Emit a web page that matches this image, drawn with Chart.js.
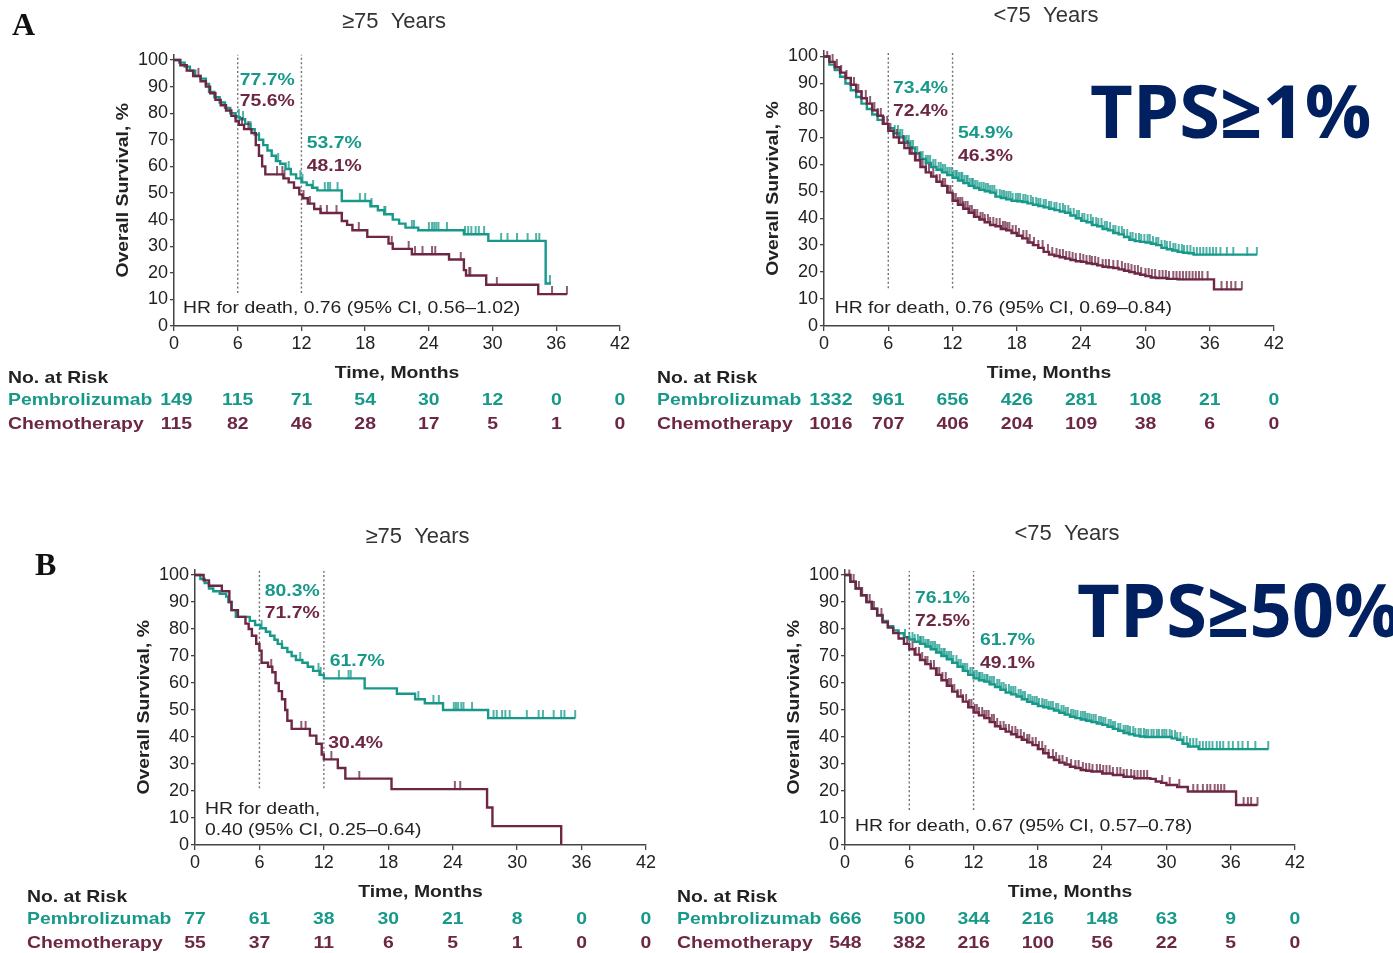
<!DOCTYPE html>
<html>
<head>
<meta charset="utf-8">
<script src="https://cdn.jsdelivr.net/npm/chart.js@4.4.1/dist/chart.umd.min.js"></script>
<style>
  html, body { margin: 0; padding: 0; background: #fff; }
  body { width: 1393px; height: 953px; position: relative; overflow: hidden; }
  canvas { position: absolute; }
</style>
</head>
<body>
<canvas id="aOld"></canvas>
<canvas id="aYoung"></canvas>
<canvas id="bOld"></canvas>
<canvas id="bYoung"></canvas>
<script>
// ---- axis ticks ----
const monthTicks = [0, 6, 12, 18, 24, 30, 36, 42];
const survivalTicks = [0, 10, 20, 30, 40, 50, 60, 70, 80, 90, 100];
const milestoneMonths = [6, 12];

// ---- A: TPS >= 1%, age >= 75 ----  [month, survival %]
const aOldPembro = [[0,100],[0.5,99],[1,97.5],[1.5,96],[2,94],[2.5,93],[3,91],[3.3,88],[3.8,86],[4.3,84],[4.8,82],[5.3,80],[5.8,78.5],[6.2,77.7],[6.7,76],[7.2,74],[7.6,72],[8,70],[8.4,68],[8.8,66],[9.2,64],[9.6,62],[10,61],[10.5,59],[11,57],[11.5,55.5],[12,54],[12.5,53],[13,52],[13.5,51],[15.8,47],[18.5,45],[19.2,43.5],[19.8,42],[20.6,40],[21.2,38.5],[21.8,37],[23,36],[27.3,34.5],[29.6,32],[35,16],[35.5,16]];
const aOldChemo = [[0,100],[0.6,98],[1.2,96],[1.8,94],[2.5,92],[3,90],[3.4,87.5],[3.9,85],[4.4,83],[4.9,81],[5.4,79],[5.8,77],[6.1,75.6],[6.6,74],[7.3,72.5],[7.7,68],[8,64],[8.3,60],[8.6,57],[10.3,55.5],[10.8,54],[11.3,52],[11.8,49.5],[12.1,48],[12.6,46],[13.2,44],[13.8,42.5],[15.8,39.5],[16.3,38],[16.8,36],[18.2,33.5],[20.2,31],[20.6,29],[22.4,27],[25.9,25],[27.3,21],[27.5,19],[29.4,15.5],[34.3,12],[37,12]];
const aOldPembroCensor = [6.1,6.5,7.2,8.0,9.8,10.8,11.9,12.1,13.1,14.2,14.5,14.7,15.4,17.5,18.0,18.6,19.8,19.9,22.4,22.6,24.0,24.3,24.5,24.7,24.9,25.7,27.4,27.7,28.0,28.4,28.7,29.2,30.8,31.4,32.3,33.3,34.1,34.4,35.4];
const aOldChemoCensor = [2.3,6.4,7.0,9.7,10.2,10.4,12.2,12.8,13.8,14.4,15.3,17.4,20.5,22.1,22.7,23.4,24.3,24.6,27.0,27.8,27.9,30.4,35.6,37.0];
const aOldPembroPct = [77.7, 53.7];
const aOldChemoPct = [75.6, 48.1];
const aOldHr = ['HR for death, 0.76 (95% CI, 0.56\u20131.02)'];
const aOldRiskPembro = [149, 115, 71, 54, 30, 12, 0, 0];
const aOldRiskChemo = [115, 82, 46, 28, 17, 5, 1, 0];

// ---- A: TPS >= 1%, age < 75 ----
const aYoungPembro = [[0,100],[0.5,97],[1,95],[1.5,92.5],[2,90],[2.5,87.5],[3,85],[3.5,82.5],[4,80.5],[4.5,78.5],[5,76.5],[5.5,75],[6,73.4],[6.5,71.5],[7,70],[7.5,68],[8,66],[8.5,64],[9,62],[9.5,60.5],[10,59],[10.5,58],[11,57],[11.5,56],[12,55],[12.5,54],[13,53],[13.5,52],[14,51.2],[14.5,50.5],[15,50],[15.5,49.5],[16,48],[16.5,47.5],[17,47],[17.5,46.5],[18,46.3],[18.5,46],[19,45.5],[19.5,45],[20,44.5],[20.5,44],[21,43.5],[21.5,43],[22,42.5],[22.5,42],[23,41],[23.5,40],[24,39],[24.5,38.5],[25,37.5],[25.5,37],[26,36],[26.5,35.5],[27,34.5],[27.5,34],[28,33],[28.5,32],[29,31.5],[29.5,31.2],[30,31],[30.5,30.5],[31,30],[31.5,29],[32,28.5],[32.5,28],[33,27.5],[33.5,27.2],[34,27],[34.5,26.5],[40.4,26.5]];
const aYoungChemo = [[0,100],[0.5,98],[1,96],[1.5,94],[2,92],[2.5,89.5],[3,87],[3.5,84.5],[4,82.5],[4.5,80],[5,78],[5.5,75],[6,72.4],[6.5,70],[7,68],[7.5,66],[8,64],[8.5,61.5],[9,59],[9.5,57],[10,55.5],[10.5,53.5],[11,52],[11.5,49.5],[12,46.5],[12.5,45],[13,43.5],[13.5,42],[14,40.5],[14.5,39.5],[15,38.5],[15.5,37.5],[16,37],[16.5,36],[17,35.5],[17.5,34.5],[18,33.5],[18.5,32.5],[19,31],[19.5,30],[20,29],[20.5,27.5],[21,26.5],[21.5,26],[22,25.5],[22.5,25],[23,24.5],[23.5,24],[24,23.8],[24.5,23.3],[25,23],[25.5,22.5],[26,22],[26.5,21.8],[27,21.5],[27.5,21],[28,20.5],[28.5,20],[29,19.5],[29.5,19],[30,18.5],[30.5,18],[31,17.8],[32,17.5],[33,17.3],[36.4,13.6],[39,13.6]];
const aYoungPembroCensor = [6.6,6.9,7.1,7.3,7.5,7.7,7.9,8.1,8.3,8.5,8.7,9.0,9.2,9.5,9.7,9.9,10.2,10.4,10.7,10.9,11.1,11.3,11.5,11.7,11.9,12.1,12.3,12.4,12.6,12.8,12.9,13.1,13.3,13.4,13.6,13.8,13.9,14.1,14.3,14.5,14.7,14.9,15.1,15.3,15.5,15.7,15.9,16.1,16.4,16.6,16.8,17.0,17.2,17.4,17.6,17.9,18.1,18.3,18.6,18.8,19.0,19.3,19.5,19.8,20.0,20.2,20.5,20.7,21.0,21.2,21.5,21.7,22.0,22.3,22.5,22.8,23.0,23.3,23.6,23.8,24.1,24.3,24.6,24.9,25.1,25.4,25.6,25.9,26.2,26.4,26.7,27.0,27.2,27.5,27.8,28.0,28.3,28.6,28.8,29.1,29.4,29.6,29.9,30.2,30.4,30.7,31.0,31.2,31.5,31.8,32.0,32.3,32.6,32.8,33.1,33.4,33.6,33.9,34.2,34.5,34.8,35.1,35.4,35.7,36.0,36.3,36.6,37.0,37.6,38.2,39.5,40.4];
const aYoungChemoCensor = [0.3,0.8,1.2,1.6,2.1,2.5,2.8,3.2,3.5,3.9,4.3,4.7,5.0,5.3,5.6,5.9,6.2,6.8,7.4,7.8,8.2,8.6,8.9,9.2,9.5,9.8,10.2,10.5,10.8,11.1,11.3,11.6,11.8,12.1,12.3,12.5,12.7,12.9,13.0,13.2,13.4,13.6,13.8,14.0,14.1,14.3,14.6,14.8,15.0,15.3,15.5,15.8,16.1,16.4,16.7,16.9,17.1,17.3,17.6,17.9,18.2,18.6,18.9,19.2,19.6,20.0,20.4,20.9,21.3,21.7,22.0,22.3,22.6,22.9,23.2,23.5,23.9,24.2,24.5,24.8,25.0,25.3,25.6,26.0,26.3,26.6,27.0,27.4,27.8,28.1,28.4,28.7,29.0,29.3,29.6,30.0,30.3,30.6,30.9,31.3,31.6,31.9,32.2,32.6,32.9,33.2,33.5,33.8,34.1,34.4,34.7,35.0,35.3,35.8,37.1,37.6,38.0,38.4,39.0];
const aYoungPembroPct = [73.4, 54.9];
const aYoungChemoPct = [72.4, 46.3];
const aYoungHr = ['HR for death, 0.76 (95% CI, 0.69\u20130.84)'];
const aYoungRiskPembro = [1332, 961, 656, 426, 281, 108, 21, 0];
const aYoungRiskChemo = [1016, 707, 406, 204, 109, 38, 6, 0];

// ---- B: TPS >= 50%, age >= 75 ----
const bOldPembro = [[0,100],[0.5,98.5],[0.9,97],[1.3,95],[1.7,94],[2.3,93],[2.9,92],[3.1,90],[3.4,87],[3.8,84.5],[5.1,83],[5.6,81.5],[6.1,80.3],[6.6,79],[7,77.5],[7.4,76],[7.7,74.5],[8.1,73],[8.6,71.5],[9,70],[9.4,68.5],[10,67.5],[10.5,66],[11,64.5],[11.6,63],[12,61.7],[15.8,58],[18.8,56],[20.5,54],[21.4,52.5],[23.1,50],[27.3,47],[35.4,47]];
const bOldChemo = [[0,100],[0.8,98],[1.3,96],[2.5,94],[3.2,90],[3.4,87],[4,84.5],[4.7,82],[5,80],[5.3,77.5],[5.7,74.5],[6,72],[6.2,67.5],[6.8,66],[7.2,64],[7.5,60],[7.8,57],[8.1,54],[8.4,50],[8.6,46],[9,43],[10.7,40.5],[11.3,37.5],[11.8,33.5],[12,31.7],[13.3,28.5],[14,24.6],[18.3,20.7],[27.2,13.9],[27.7,7],[34.1,0]];
const bOldPembroCensor = [6.2,8.1,9.8,11.5,11.7,13.4,14.3,14.5,20.8,22.2,22.7,24.1,24.3,24.5,24.8,25.0,25.8,27.8,28.1,28.6,28.9,29.3,30.9,32.0,32.4,33.4,34.1,34.4,35.4];
const bOldChemoCensor = [7.1,9.9,10.3,12.7,15.3,24.2,24.7];
const bOldPembroPct = [80.3, 61.7];
const bOldChemoPct = [71.7, 30.4];
const bOldHr = ['HR for death,', '0.40 (95% CI, 0.25\u20130.64)'];
const bOldRiskPembro = [77, 61, 38, 30, 21, 8, 0, 0];
const bOldRiskChemo = [55, 37, 11, 6, 5, 1, 0, 0];

// ---- B: TPS >= 50%, age < 75 ----
const bYoungPembro = [[0,100],[0.5,97.5],[1,95],[1.5,92.5],[2,90],[2.5,87.5],[3,85.2],[3.5,83],[4,81],[4.5,79.5],[5,78.4],[5.5,77],[6,76.1],[6.5,75.3],[7,74.5],[7.5,73.5],[8,72.5],[8.5,71.3],[9,70],[9.5,68.8],[10,67.5],[10.5,66],[11,64.5],[11.5,63],[12,61.7],[12.5,61],[13,60.5],[13.5,59.5],[14,58.5],[14.5,57.5],[15,56.5],[15.5,55.8],[16,55],[16.5,54],[17,53],[17.5,52.3],[18,51.5],[18.5,51],[19,50.5],[19.5,49.8],[20,49],[20.5,48.3],[21,47.5],[21.5,47],[22,46.5],[22.5,46],[23,45.5],[23.5,45],[24,44.5],[24.5,43.8],[25,43],[25.5,42.3],[26,41.5],[26.5,41],[27,40.5],[27.5,40.2],[28,40],[30,40],[30.5,39.5],[31,39],[31.5,37.5],[32,36.5],[33,35.5],[39.5,35.5]];
const bYoungChemo = [[0,100],[0.5,97.5],[1,95],[1.5,92.5],[2,90],[2.5,87.5],[3,85],[3.5,82.5],[4,80.5],[4.5,78.5],[5,76.5],[5.5,74.5],[6,72.5],[6.5,70.5],[7,68.5],[7.5,67],[8,65.4],[8.5,63],[9,61],[9.5,59],[10,56.8],[10.5,55],[11,53.1],[11.5,51],[12,49.1],[12.5,48],[13,47],[13.5,45.5],[14,44],[14.5,43],[15,42],[15.5,41],[16,40],[16.5,39],[17,38],[17.5,37],[18,35.5],[18.5,34],[19,32.5],[19.5,31.5],[20,30.5],[20.5,29.8],[21,29],[21.5,28.5],[22,27.8],[22.5,27.5],[23,27.2],[24,26.5],[25,25.9],[26,25.3],[27,24.7],[28.5,24.5],[29,23.5],[29.5,23],[30,22.2],[31,21.5],[32,19.8],[36.5,14.8],[38.5,14.8]];
const bYoungPembroCensor = [5.6,6.0,6.3,6.5,6.8,7.0,7.1,7.3,7.5,7.7,7.8,8.0,8.2,8.4,8.6,8.8,9.0,9.2,9.3,9.5,9.7,9.9,10.1,10.4,10.6,10.8,11.0,11.2,11.4,11.7,11.9,12.1,12.3,12.5,12.6,12.8,13.0,13.2,13.3,13.5,13.7,13.9,14.2,14.4,14.6,14.8,15.0,15.3,15.5,15.7,15.9,16.2,16.4,16.6,16.8,17.1,17.3,17.5,17.7,17.9,18.1,18.4,18.6,18.8,19.0,19.2,19.4,19.7,19.9,20.2,20.4,20.6,20.8,21.1,21.3,21.5,21.7,22.0,22.2,22.4,22.6,22.8,23.0,23.2,23.4,23.7,23.9,24.1,24.3,24.6,24.8,25.0,25.2,25.5,25.7,26.0,26.2,26.4,26.6,26.9,27.1,27.4,27.6,27.9,28.1,28.3,28.6,28.8,29.1,29.3,29.6,29.8,30.0,30.3,30.5,30.8,31.0,31.3,31.6,31.9,32.2,32.5,32.8,33.1,33.4,33.7,34.0,34.3,34.7,35.0,35.3,35.8,36.2,36.7,37.1,37.6,38.3,39.5];
const bYoungChemoCensor = [0.4,0.8,1.0,1.3,1.6,2.0,2.3,2.7,3.0,3.4,5.8,6.3,6.6,6.9,7.2,7.5,7.7,8.0,8.3,8.6,8.8,9.1,9.4,9.7,9.9,10.2,10.5,10.8,11.0,11.3,11.6,11.8,12.1,12.3,12.5,12.8,13.0,13.2,13.4,13.7,13.9,14.2,14.5,14.8,15.0,15.3,15.6,15.9,16.1,16.4,16.7,17.0,17.2,17.5,17.8,18.1,18.4,18.7,19.0,19.4,19.7,20.0,20.3,20.7,21.1,21.5,21.8,22.2,22.5,22.8,23.1,23.5,23.8,24.1,24.4,24.7,25.0,25.4,25.7,26.0,26.3,26.7,27.0,27.3,27.6,27.9,28.2,29.6,30.3,31.2,32.5,32.9,33.4,33.8,34.1,34.5,34.8,35.1,35.4,37.2,37.6,37.9,38.5];
const bYoungPembroPct = [76.1, 61.7];
const bYoungChemoPct = [72.5, 49.1];
const bYoungHr = ['HR for death, 0.67 (95% CI, 0.57\u20130.78)'];
const bYoungRiskPembro = [666, 500, 344, 216, 148, 63, 9, 0];
const bYoungRiskChemo = [548, 382, 216, 100, 56, 22, 5, 0];

// ---- styling ----
const TEAL = '#17998a';
const MAROON = '#6d2744';
const NAVY = '#002060';
const INK = '#222';
const FONT = '"Liberation Sans", Arial, sans-serif';
const STRETCH = 1.14; // the source art is a bit wider than plain Arial
const Y_MAX = 102;
const Y_AXIS_W = 40;
const X_AXIS_H = 28;

function drawText(ctx, str, x, y, opt = {}) {
  ctx.save();
  ctx.font = `${opt.bold ? 'bold ' : ''}${opt.size || 17}px ${opt.family || FONT}`;
  ctx.fillStyle = opt.color || INK;
  ctx.textAlign = opt.align || 'left';
  ctx.textBaseline = opt.baseline || 'alphabetic';
  ctx.translate(x, y);
  if (opt.rotate) ctx.rotate(opt.rotate);
  const sx = opt.stretch === undefined ? STRETCH : opt.stretch;
  ctx.scale(sx, 1);
  ctx.fillText(str, 0, 0);
  ctx.restore();
}

function textWidth(ctx, str, opt = {}) {
  ctx.save();
  ctx.font = `${opt.bold ? 'bold ' : ''}${opt.size || 17}px ${opt.family || FONT}`;
  const w = ctx.measureText(str).width * (opt.stretch === undefined ? STRETCH : opt.stretch);
  ctx.restore();
  return w;
}

// survival value in effect at time t (step function)
function survivalAt(curve, t) {
  let s = curve[0][1];
  curve.forEach(([m, v]) => { if (m <= t) s = v; });
  return s;
}

// small upright censor tick, drawn above the point
function censorMark(color) {
  const c = document.createElement('canvas');
  c.width = 4;
  c.height = 16;
  const g = c.getContext('2d');
  g.strokeStyle = color;
  g.lineWidth = 1.5;
  g.beginPath();
  g.moveTo(2, 0);
  g.lineTo(2, 8.5);
  g.stroke();
  return c;
}

const panels = [
  {
    id: 'aOld', x: 0, y: 0, w: 650, h: 450, left: 174, right: 620, y0: 326, y100: 60,
    title: '\u226575  Years', titleY: 28, letter: 'A', letterAt: [12, 35],
    pembro: aOldPembro, chemo: aOldChemo, pembroCensor: aOldPembroCensor, chemoCensor: aOldChemoCensor,
    pembroPct: aOldPembroPct, chemoPct: aOldChemoPct,
    pembroLabelAt: [[6.2, 92.2], [12.5, 68.8]], chemoLabelAt: [[6.2, 84.6], [12.5, 60.2]],
    guideRange: [12.4, 102], hr: aOldHr, hrAt: [0.85, 6.8],
    riskPembro: aOldRiskPembro, riskChemo: aOldRiskChemo, riskLeft: 8,
  },
  {
    id: 'aYoung', x: 650, y: 0, w: 743, h: 450, left: 824, right: 1274, y0: 326, y100: 56.5,
    title: '<75  Years', titleY: 22, tps: 'TPS\u22651%', tpsAt: [1090, 138],
    pembro: aYoungPembro, chemo: aYoungChemo, pembroCensor: aYoungPembroCensor, chemoCensor: aYoungChemoCensor,
    pembroPct: aYoungPembroPct, chemoPct: aYoungChemoPct,
    pembroLabelAt: [[6.44, 88.3], [12.5, 71.6]], chemoLabelAt: [[6.44, 79.8], [12.5, 63.1]],
    guideRange: [14, 101.5], hr: aYoungHr, hrAt: [1.0, 6.7],
    riskPembro: aYoungRiskPembro, riskChemo: aYoungRiskChemo, riskLeft: 657,
  },
  {
    id: 'bOld', x: 0, y: 470, w: 670, h: 483, left: 195, right: 646, y0: 845, y100: 575,
    title: '\u226575  Years', titleY: 543, letter: 'B', letterAt: [35, 575],
    pembro: bOldPembro, chemo: bOldChemo, pembroCensor: bOldPembroCensor, chemoCensor: bOldChemoCensor,
    pembroPct: bOldPembroPct, chemoPct: bOldChemoPct,
    pembroLabelAt: [[6.5, 94.1], [12.55, 68.1]], chemoLabelAt: [[6.5, 85.9], [12.4, 37.8]],
    guideRange: [21, 101.5], hr: bOldHr, hrAt: [0.93, 13.3],
    riskPembro: bOldRiskPembro, riskChemo: bOldRiskChemo, riskLeft: 27,
  },
  {
    id: 'bYoung', x: 670, y: 470, w: 723, h: 483, left: 845, right: 1295, y0: 845, y100: 575,
    title: '<75  Years', titleY: 540, tps: 'TPS\u226550%', tpsAt: [1077, 637],
    pembro: bYoungPembro, chemo: bYoungChemo, pembroCensor: bYoungPembroCensor, chemoCensor: bYoungChemoCensor,
    pembroPct: bYoungPembroPct, chemoPct: bYoungChemoPct,
    pembroLabelAt: [[6.54, 91.5], [12.6, 75.9]], chemoLabelAt: [[6.54, 82.8], [12.6, 67.4]],
    guideRange: [13, 101.5], hr: bYoungHr, hrAt: [0.93, 6.9],
    riskPembro: bYoungRiskPembro, riskChemo: bYoungRiskChemo, riskLeft: 677,
  },
];

function decorations(p) {
  return {
    id: 'kmDecor',
    beforeDatasetsDraw(chart) {
      const { ctx } = chart;
      const { x, y } = chart.scales;
      ctx.save();
      ctx.strokeStyle = '#707070';
      ctx.lineWidth = 1.4;
      ctx.setLineDash([2, 2.4]);
      milestoneMonths.forEach((m) => {
        const px = x.getPixelForValue(m);
        ctx.beginPath();
        ctx.moveTo(px, y.getPixelForValue(p.guideRange[0]));
        ctx.lineTo(px, y.getPixelForValue(p.guideRange[1]));
        ctx.stroke();
      });
      ctx.restore();
    },
    afterDraw(chart) {
      const { ctx, chartArea: area } = chart;
      const { x, y } = chart.scales;
      const zero = y.getPixelForValue(0);

      drawText(ctx, p.title, (area.left + area.right) / 2 - 3, p.titleY - p.y, { size: 22, color: '#333', align: 'center', stretch: 1 });
      drawText(ctx, 'Overall Survival, %', area.left - 51, (area.top + area.bottom) / 2, { bold: true, align: 'center', baseline: 'middle', rotate: -Math.PI / 2 });

      p.pembroPct.forEach((v, i) => {
        const [m, s] = p.pembroLabelAt[i];
        drawText(ctx, `${v.toFixed(1)}%`, x.getPixelForValue(m), y.getPixelForValue(s), { bold: true, color: TEAL, baseline: 'middle' });
      });
      p.chemoPct.forEach((v, i) => {
        const [m, s] = p.chemoLabelAt[i];
        drawText(ctx, `${v.toFixed(1)}%`, x.getPixelForValue(m), y.getPixelForValue(s), { bold: true, color: MAROON, baseline: 'middle' });
      });

      p.hr.forEach((line, i) => {
        drawText(ctx, line, x.getPixelForValue(p.hrAt[0]), y.getPixelForValue(p.hrAt[1]) + i * 21, { baseline: 'middle', color: '#222' });
      });

      // number at risk table
      const rx = p.riskLeft - p.x;
      drawText(ctx, 'Time, Months', (area.left + area.right) / 2, zero + 52, { bold: true, align: 'center' });
      drawText(ctx, 'No. at Risk', rx, zero + 57, { bold: true });
      drawText(ctx, 'Pembrolizumab', rx, zero + 79, { bold: true, color: TEAL });
      drawText(ctx, 'Chemotherapy', rx, zero + 103, { bold: true, color: MAROON });
      const nameEnd = rx + textWidth(ctx, 'Pembrolizumab', { bold: true });
      monthTicks.forEach((m, i) => {
        let cx = x.getPixelForValue(m);
        if (i === 0) {
          const w = Math.max(textWidth(ctx, String(p.riskPembro[0]), { bold: true }), textWidth(ctx, String(p.riskChemo[0]), { bold: true }));
          cx = Math.max(cx, nameEnd + 8 + w / 2);
        }
        drawText(ctx, String(p.riskPembro[i]), cx, zero + 79, { bold: true, color: TEAL, align: 'center' });
        drawText(ctx, String(p.riskChemo[i]), cx, zero + 103, { bold: true, color: MAROON, align: 'center' });
      });

      if (p.letter) {
        drawText(ctx, p.letter, p.letterAt[0] - p.x, p.letterAt[1] - p.y, { bold: true, size: 32, family: '"Liberation Serif", "Times New Roman", serif', color: '#111', stretch: 1 });
      }
      if (p.tps) {
        drawText(ctx, p.tps, p.tpsAt[0] - p.x, p.tpsAt[1] - p.y, { bold: true, size: 74, family: '"Open Sans", "Noto Sans", sans-serif', color: NAVY, stretch: 1 });
      }
    },
  };
}

function curveSet(curve, color) {
  return {
    type: 'line',
    data: curve.map(([m, s]) => ({ x: m, y: s })),
    borderColor: color,
    borderWidth: 2.4,
    stepped: 'before',
    pointRadius: 0,
    fill: false,
    tension: 0,
  };
}

function censorSet(curve, times, color) {
  return {
    type: 'line',
    showLine: false,
    data: times.map((t) => ({ x: t, y: survivalAt(curve, t) })),
    pointStyle: censorMark(color),
    pointRadius: 3,
  };
}

function axisStyle() {
  return {
    border: { display: true, color: '#444', width: 1.5 },
    grid: { display: true, drawOnChartArea: false, drawTicks: true, color: '#444', lineWidth: 1.3 },
    ticks: { color: INK, font: { family: FONT, size: 18 }, autoSkip: false, maxRotation: 0 },
  };
}

panels.forEach((p) => {
  const canvas = document.getElementById(p.id);
  canvas.width = p.w;
  canvas.height = p.h;
  canvas.style.left = `${p.x}px`;
  canvas.style.top = `${p.y}px`;

  const top = p.y0 - (Y_MAX * (p.y0 - p.y100)) / 100;
  const xAxis = axisStyle();
  const yAxis = axisStyle();

  new Chart(canvas, {
    type: 'line',
    data: {
      datasets: [
        curveSet(p.chemo, MAROON),
        censorSet(p.chemo, p.chemoCensor, MAROON),
        curveSet(p.pembro, TEAL),
        censorSet(p.pembro, p.pembroCensor, TEAL),
      ],
    },
    options: {
      responsive: false,
      animation: false,
      events: [],
      layout: {
        padding: {
          left: p.left - p.x - Y_AXIS_W,
          right: p.x + p.w - p.right,
          top: top - p.y,
          bottom: p.y + p.h - p.y0 - X_AXIS_H,
        },
      },
      scales: {
        x: {
          type: 'linear',
          min: 0,
          max: 42,
          ...xAxis,
          grid: { ...xAxis.grid, tickLength: 5 },
          ticks: { ...xAxis.ticks, padding: 2 },
          afterBuildTicks: (s) => { s.ticks = monthTicks.map((v) => ({ value: v })); },
          afterFit: (s) => { s.height = X_AXIS_H; },
        },
        y: {
          type: 'linear',
          min: 0,
          max: Y_MAX,
          ...yAxis,
          grid: { ...yAxis.grid, tickLength: 4 },
          ticks: { ...yAxis.ticks, padding: 2 },
          afterBuildTicks: (s) => { s.ticks = survivalTicks.map((v) => ({ value: v })); },
          afterFit: (s) => { s.width = Y_AXIS_W; },
        },
      },
      plugins: {
        legend: { display: false },
        tooltip: { enabled: false },
        title: { display: false },
      },
    },
    plugins: [decorations(p)],
  });
});
</script>
</body>
</html>
